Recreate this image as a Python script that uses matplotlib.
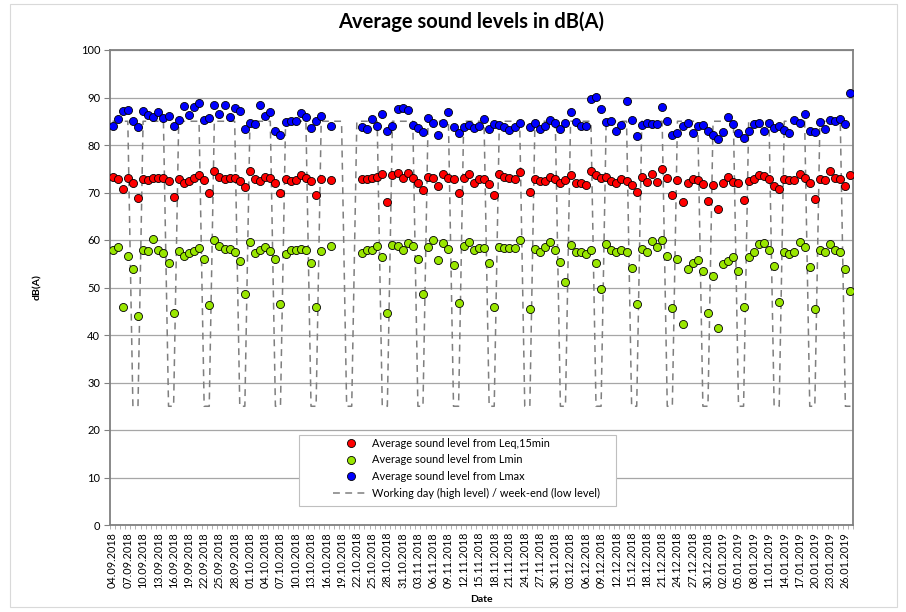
import matplotlib.pyplot as plt
import matplotlib.patches as mpatches
import numpy as np
import pandas as pd

plt.rcParams['font.family'] = ['Lato', 'DejaVu Sans']

nan = np.nan

# One category per day, 04.09.2018 - 27.01.2019
dates = pd.date_range('2018-09-04', '2019-01-27', freq='D')
date_labels = list(dates.strftime('%d.%m.%Y'))

# Daily averages in dB(A); nan = no measurement that day
leq = [73.3, 72.9, 70.7, 73.0, 72.1, 68.8, 72.8, 72.6, 73.0, 73.1,
       73.0, 72.4, 69.1, 72.8, 72.1, 72.4, 73.0, 73.6, 72.7, 70.0,
       74.5, 73.3, 72.8, 73.1, 73.1, 72.4, 71.2, 74.5, 72.8, 72.5,
       73.3, 73.1, 72.1, 69.8, 72.8, 72.5, 72.7, 73.7, 73.0, 72.4,
       69.5, 72.8, nan, 72.6, nan, nan, nan, nan, nan, 72.8,
       72.8, 73.0, 73.2, 74.0, 67.9, 73.6, 74.2, 73.0, 74.2, 73.0,
       72.1, 70.5, 73.2, 73.0, 71.3, 73.8, 73.0, 72.8, 69.8, 73.0,
       74.0, 72.1, 72.8, 72.8, 71.7, 69.5, 74.0, 73.3, 73.0, 72.9,
       74.3, nan, 70.1, 72.8, 72.4, 72.5, 73.3, 72.8, 71.9, 72.6,
       73.6, 72.1, 71.9, 71.6, 74.5, 73.6, 73.0, 73.3, 72.5, 72.1,
       72.9, 72.4, 71.5, 70.2, 73.2, 72.2, 74.0, 72.2, 75.0, 73.0,
       69.4, 72.6, 67.9, 72.1, 72.9, 72.6, 71.7, 68.2, 71.5, 66.5,
       71.9, 73.2, 72.3, 71.9, 68.4, 72.4, 72.8, 73.7, 73.4, 72.8,
       71.4, 70.8, 72.9, 72.6, 72.6, 74.0, 73.1, 71.9, 68.6, 72.8,
       72.6, 74.6, 73.1, 72.8, 71.4, 73.7]

lmin = [57.9, 58.5, 45.8, 56.6, 53.9, 43.9, 57.9, 57.6, 60.3, 58.0,
        57.2, 55.1, 44.7, 57.6, 56.6, 57.3, 57.6, 58.4, 55.9, 46.3,
        59.9, 58.8, 58.1, 58.2, 57.5, 55.6, 48.7, 59.6, 57.2, 57.8,
        58.6, 57.7, 56.0, 46.6, 57.0, 58.0, 58.0, 58.2, 57.9, 55.1,
        45.8, 57.7, nan, 58.7, nan, nan, nan, nan, nan, 57.3,
        58.0, 58.0, 58.7, 56.4, 44.7, 58.9, 58.7, 57.9, 59.4, 58.7,
        55.9, 48.6, 58.5, 59.9, 55.8, 59.3, 58.2, 54.7, 46.7, 58.7,
        59.6, 57.8, 58.4, 58.4, 55.2, 45.9, 58.5, 58.3, 58.4, 58.4,
        59.9, nan, 45.4, 58.2, 57.5, 58.6, 59.6, 58.0, 55.3, 51.1,
        58.9, 57.5, 57.5, 57.0, 58.0, 55.1, 49.7, 59.1, 57.9, 57.4,
        58.0, 57.5, 54.2, 46.5, 58.2, 57.5, 59.8, 58.5, 60.0, 56.6,
        45.6, 55.9, 42.4, 54.0, 55.2, 55.8, 53.5, 44.7, 52.4, 41.5,
        54.9, 55.6, 56.4, 53.5, 45.9, 56.5, 57.4, 59.2, 59.3, 57.8,
        54.6, 46.9, 57.5, 57.0, 57.5, 59.5, 58.6, 54.4, 45.4, 57.8,
        57.4, 59.2, 57.8, 57.4, 53.9, 49.3]

lmax = [84.1, 85.5, 87.2, 87.4, 85.1, 83.7, 87.1, 86.3, 85.8, 86.9,
        85.7, 86.2, 84.1, 85.2, 88.2, 86.3, 88.1, 88.8, 85.2, 85.6,
        88.4, 86.5, 88.4, 85.8, 87.8, 87.1, 83.3, 84.7, 84.4, 88.4,
        86.2, 87.0, 82.9, 82.2, 84.8, 85.1, 85.1, 86.7, 85.8, 83.6,
        85.1, 86.1, nan, 84.0, nan, nan, nan, nan, nan, 83.8,
        83.3, 85.5, 84.1, 86.5, 83.0, 84.1, 87.5, 87.7, 87.4, 84.2,
        83.5, 82.8, 85.6, 84.7, 82.2, 84.6, 86.9, 83.8, 82.5, 83.7,
        84.3, 83.5, 84.0, 85.4, 83.3, 84.4, 84.2, 83.8, 83.1, 83.7,
        84.6, nan, 83.7, 84.7, 83.3, 84.0, 85.3, 84.6, 83.3, 84.7,
        87.0, 84.8, 84.1, 84.0, 89.7, 90.2, 87.6, 84.9, 85.1, 82.9,
        84.2, 89.3, 85.3, 81.9, 84.2, 84.6, 84.4, 84.4, 87.9, 85.1,
        82.1, 82.6, 84.1, 84.7, 82.5, 84.0, 84.2, 83.0, 82.2, 81.2,
        82.8, 85.8, 84.4, 82.5, 81.5, 83.0, 84.4, 84.7, 82.9, 84.6,
        83.6, 84.0, 83.2, 82.5, 85.3, 84.6, 86.5, 83.0, 82.8, 84.9,
        83.3, 85.3, 85.1, 85.4, 84.4, 91.0]

# 85 on working days, 25 on Saturdays and Sundays (first day is a Tuesday)
working_day = [85] * 4 + [25] * 2 + ([85] * 5 + [25] * 2) * 20

x = np.arange(len(dates))

W, H = 906, 612
fig = plt.figure(figsize=(W / 100, H / 100), dpi=100)
ax = fig.add_axes([110 / W, 1 - 525 / H, (853 - 110) / W, (525 - 50) / H])

ax.plot(x, working_day, color='#7F7F7F', lw=1.1, dashes=(4.5, 3.5), zorder=2,
        label='Working day (high level) / week-end (low level)')
mk = dict(ls='none', marker='o', ms=5.8, mec='black', mew=0.6, zorder=3)
ax.plot(x, leq, mfc='#FF0000', label='Average sound level from Leq,15min', **mk)
ax.plot(x, lmin, mfc='#99E600', label='Average sound level from Lmin', **mk)
ax.plot(x, lmax, mfc='#0000FF', label='Average sound level from Lmax', **mk)

ax.set_xlim(-0.5, len(dates) - 0.5)
ax.set_ylim(0, 100)
ax.set_yticks(np.arange(0, 101, 10))
ax.yaxis.grid(True, color='#A6A6A6', lw=0.9)
ax.set_axisbelow(True)

ax.set_xticks(x[::3])
ax.set_xticklabels(date_labels[::3], rotation=90, fontsize=7.8)
ax.set_xticks(np.arange(-0.5, len(dates), 1), minor=True)
ax.tick_params(axis='x', which='major', length=0, pad=5)
ax.tick_params(axis='x', which='minor', length=3, color='#A6A6A6', width=0.6)
ax.tick_params(axis='y', length=4, color='#808080', labelsize=8, pad=3)

for s in ax.spines.values():
    s.set_color('#808080')
    s.set_linewidth(1.3)

fig.text(471 / W, 1 - 22 / H, 'Average sound levels in dB(A)', ha='center',
         va='center', fontsize=14.5, fontweight='bold')
fig.text(38 / W, 1 - 287 / H, 'dB(A)', rotation=90, ha='center', va='center',
         fontsize=7.5, fontweight='bold')
fig.text(481 / W, 1 - 600 / H, 'Date', ha='center', va='center',
         fontsize=7.5, fontweight='bold')

# legend box
box = mpatches.Rectangle((299 / W, 1 - 506 / H), (616 - 299) / W, (506 - 435) / H,
                         transform=fig.transFigure, facecolor='white',
                         edgecolor='#BFBFBF', lw=0.8, zorder=1)
fig.patches.append(box)

h, l = ax.get_legend_handles_labels()
order = [1, 2, 3, 0]
fig.legend([h[i] for i in order], [l[i] for i in order], loc='upper left',
           bbox_to_anchor=(333 / W, 1 - 438 / H), frameon=False, fontsize=7.9,
           borderpad=0, borderaxespad=0, handlelength=3.2, handletextpad=0.4,
           labelspacing=0.5)

# chart area border
frame = mpatches.Rectangle((10 / W, 1 - 607 / H), (897 - 10) / W, (607 - 4) / H,
                           transform=fig.transFigure, fill=False,
                           edgecolor='#D9D9D9', lw=0.8, zorder=0)
fig.patches.append(frame)

fig.savefig('out.png', dpi=100)
